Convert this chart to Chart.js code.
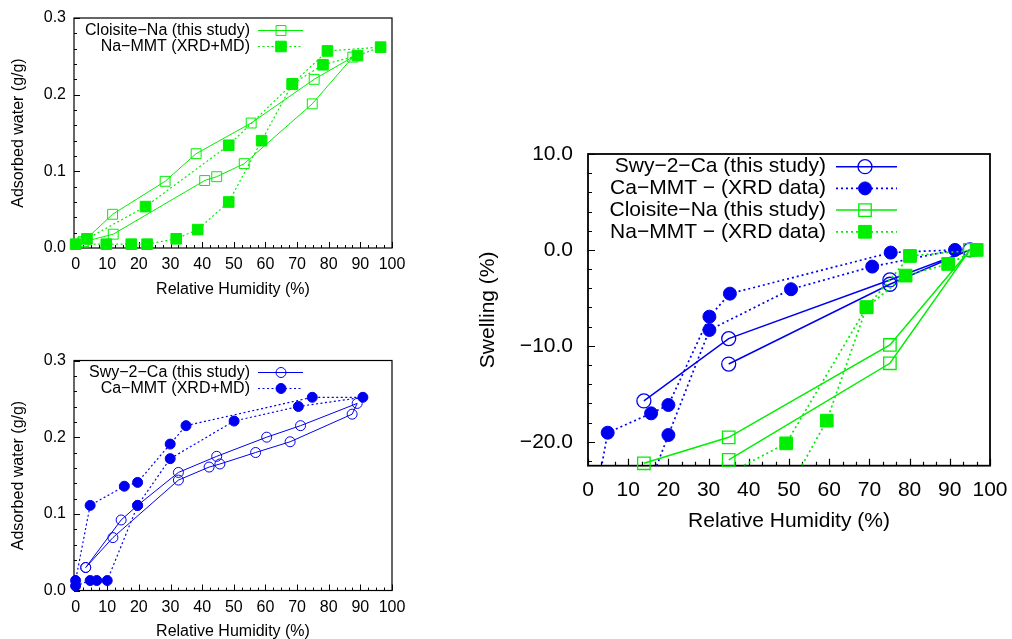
<!DOCTYPE html>
<html>
<head>
<meta charset="utf-8">
<script src="https://cdn.jsdelivr.net/npm/chart.js@4/dist/chart.umd.min.js"></script>
<style>
  body { margin: 0; background: #fff; }
  #page { position: relative; width: 1012px; height: 639px; overflow: hidden; background: #fff; }
  canvas { position: absolute; }
</style>
</head>
<body>
<div id="page">
  <canvas id="naChart" width="420" height="300" style="left:0;top:0;width:420px;height:300px"></canvas>
  <canvas id="caChart" width="420" height="300" style="left:0;top:342px;width:420px;height:300px"></canvas>
  <canvas id="swellChart" width="552" height="410" style="left:460px;top:130px;width:552px;height:410px"></canvas>
</div>
<script>
// top-left: Cloisite-Na water uptake
const cloisiteRH    = [2.4, 11.9, 40.8, 44.6, 53.3, 74.8, 87.6, 75.4, 55.5, 38.1, 28.3, 11.7, 2.4];
const cloisiteWater = [0.008, 0.018, 0.088, 0.093, 0.110, 0.188, 0.249, 0.220, 0.163, 0.123, 0.087, 0.044, 0.008];
const naMmtRH       = [0, 9.7, 17.6, 22.6, 31.8, 38.6, 48.4, 58.8, 68.5, 79.6, 96.4, 89.1, 78.2, 68.5, 48.4, 22.1, 3.6];
const naMmtWater    = [0.005, 0.005, 0.005, 0.005, 0.012, 0.024, 0.060, 0.140, 0.214, 0.257, 0.262, 0.251, 0.239, 0.214, 0.134, 0.054, 0.012];

// bottom-left: Swy-2-Ca water uptake
const swyRH         = [3.2, 11.8, 32.5, 42.2, 45.6, 56.9, 67.8, 87.4, 89.0, 71.1, 60.4, 44.6, 32.5, 19.6, 14.4, 3.2];
const swyWater      = [0.030, 0.069, 0.144, 0.161, 0.165, 0.180, 0.194, 0.230, 0.244, 0.215, 0.200, 0.175, 0.154, 0.111, 0.092, 0.030];
const caMmtRH       = [0, 4.6, 6.7, 10.0, 19.6, 29.9, 50.1, 70.4, 90.8, 74.8, 34.9, 29.9, 19.6, 15.4, 4.6, 0];
const caMmtWater    = [0.006, 0.013, 0.013, 0.013, 0.111, 0.172, 0.221, 0.240, 0.252, 0.252, 0.215, 0.191, 0.141, 0.136, 0.111, 0.013];

// right: swelling
const swySwellRH       = [35.0, 75.1, 95.0, 75.1, 35.0, 13.9];
const swySwell         = [-11.9, -3.58, 0, -3.13, -9.25, -15.75];
const caSwellRH        = [10.0, 20.0, 30.2, 50.5, 70.7, 91.3, 75.3, 35.3, 30.2, 20.0, 15.7, 4.9, 0];
const caSwell          = [-30.3, -19.3, -8.35, -4.1, -1.74, 0, -0.28, -4.56, -6.96, -16.17, -17.04, -19.06, -30.3];
const cloisiteSwellRH  = [35.0, 75.1, 95.0, 75.1, 35.0, 13.9];
const cloisiteSwell    = [-21.9, -11.82, 0, -9.91, -19.54, -22.25];
const naSwellRH        = [48.4, 59.4, 69.3, 80.1, 96.7, 89.6, 79.0, 69.3, 49.3, 22.1];
const naSwell          = [-26.1, -17.8, -5.98, -0.63, 0, -1.46, -2.68, -5.98, -20.17, -26.1];

const rhTicks = [0, 100, 10];          // min, max, step of the tick labels
const waterTicks = [0, 0.3, 0.1];
const swellTicks = [-20, 10, 10];

const GREEN = '#00ee00';
const BLUE = '#0000f0';
const FONT = "'Liberation Sans', Arial, Helvetica, sans-serif";

Chart.defaults.font.family = FONT;
Chart.defaults.color = '#000';

function pts(xs, ys) {
    return xs.map((x, i) => ({ x: x, y: ys[i] }));
}

// the line part is clipped to the frame, the markers are not (gnuplot draws them over the border)
function series(xs, ys, st, order) {
    const line = {
        data: pts(xs, ys),
        showLine: true,
        borderColor: st.color,
        borderWidth: st.width,
        borderDash: st.dash,
        pointRadius: 0,
        pointHoverRadius: 0,
        order: order + 1
    };
    const marks = {
        data: pts(xs, ys),
        showLine: false,
        clip: false,
        pointStyle: st.marker,
        pointRadius: function(ctx) {
            const s = ctx.chart.scales.y;
            const v = ctx.raw ? ctx.raw.y : 0;
            return (v < s.min || v > s.max) ? 0 : st.radius;
        },
        pointHoverRadius: 0,
        pointBorderWidth: st.pointWidth,
        pointBorderColor: st.color,
        pointBackgroundColor: st.filled ? st.color : 'rgba(0,0,0,0)',
        order: order
    };
    return [line, marks];
}

const frameAndKey = {
    id: 'frameAndKey',
    beforeDatasetsDraw(chart, args, opts) {
        const ctx = chart.ctx;
        const a = chart.chartArea;
        const xs = chart.scales.x, ys = chart.scales.y;
        ctx.save();
        ctx.strokeStyle = '#000';
        ctx.lineWidth = opts.tickWidth;
        ctx.beginPath();
        const xStep = opts.xStep / opts.xSub;
        for (let k = Math.ceil(xs.min / xStep - 1e-6); k * xStep <= xs.max + 1e-6; k++) {
            const px = Math.round(xs.getPixelForValue(k * xStep)) + 0.5;
            const len = (k % opts.xSub === 0) ? opts.major : opts.minor;
            ctx.moveTo(px, a.bottom);
            ctx.lineTo(px, a.bottom - len);
        }
        const yStep = opts.yStep / opts.ySub;
        for (let k = Math.ceil(ys.min / yStep - 1e-6); k * yStep <= ys.max + 1e-6; k++) {
            const py = Math.round(ys.getPixelForValue(k * yStep)) + 0.5;
            const len = (Math.abs(k) % opts.ySub === 0) ? opts.major : opts.minor;
            ctx.moveTo(a.left, py);
            ctx.lineTo(a.left + len, py);
        }
        ctx.stroke();
        ctx.lineWidth = opts.frameWidth;
        ctx.strokeRect(a.left, a.top, a.right - a.left, a.bottom - a.top);
        ctx.restore();
    },
    afterDraw(chart, args, opts) {
        const ctx = chart.ctx;
        ctx.save();
        opts.key.forEach((k, i) => {
            const y = opts.keyTop + i * opts.keyGap;
            ctx.font = opts.keyFont + 'px ' + FONT;
            ctx.fillStyle = '#000';
            ctx.textAlign = 'right';
            ctx.textBaseline = 'middle';
            ctx.fillText(k.label, opts.keyText, y);
            const st = k.style;
            ctx.strokeStyle = st.color;
            ctx.lineWidth = st.width;
            ctx.setLineDash(st.dash);
            ctx.beginPath();
            ctx.moveTo(opts.keyFrom, y);
            ctx.lineTo(opts.keyTo, y);
            ctx.stroke();
            ctx.setLineDash([]);
            ctx.lineWidth = st.pointWidth;
            ctx.fillStyle = st.filled ? st.color : 'rgba(0,0,0,0)';
            ctx.beginPath();
            if (st.marker === 'circle') {
                ctx.arc(opts.keyMark, y, st.radius, 0, Math.PI * 2);
            } else {
                const h = st.radius * Math.SQRT1_2;
                ctx.rect(opts.keyMark - h, y - h, 2 * h, 2 * h);
            }
            ctx.fill();
            ctx.stroke();
        });
        ctx.restore();
    }
};

function minusLabel(v) {
    return v < 0 ? '\u2212' + Math.abs(v).toFixed(1) : v.toFixed(1);
}

// tick label padding must not push the plot frame around
function noEdgePadding(s) {
    s.paddingTop = 0;
    s.paddingBottom = 0;
    s.paddingLeft = 0;
    s.paddingRight = 0;
}

function makeChart(canvasId, cfg) {
    const ctx = document.getElementById(canvasId).getContext('2d');
    return new Chart(ctx, {
        type: 'scatter',
        data: { datasets: cfg.datasets },
        options: {
            responsive: false,
            animation: false,
            events: [],
            devicePixelRatio: 1,
            layout: { padding: cfg.padding },
            plugins: {
                legend: { display: false },
                tooltip: { enabled: false },
                frameAndKey: cfg.frame
            },
            scales: {
                x: {
                    type: 'linear',
                    min: cfg.xMin,
                    max: cfg.xMax,
                    afterFit: function(s) { s.height = cfg.xHeight; noEdgePadding(s); },
                    grid: { display: false, drawTicks: false },
                    border: { display: false },
                    ticks: {
                        stepSize: rhTicks[2],
                        includeBounds: false,
                        autoSkip: false,
                        maxRotation: 0,
                        padding: cfg.xPad,
                        font: { size: cfg.font },
                        callback: v => String(v)
                    },
                    title: {
                        display: true,
                        text: 'Relative Humidity (%)',
                        font: { size: cfg.font },
                        padding: { top: 0, bottom: cfg.xTitlePad }
                    }
                },
                y: {
                    type: 'linear',
                    min: cfg.yMin,
                    max: cfg.yMax,
                    afterFit: function(s) { s.width = cfg.yWidth; noEdgePadding(s); },
                    grid: { display: false, drawTicks: false },
                    border: { display: false },
                    ticks: {
                        stepSize: cfg.yStep,
                        includeBounds: false,
                        autoSkip: false,
                        padding: cfg.yPad,
                        font: { size: cfg.font },
                        callback: cfg.yLabel
                    },
                    title: {
                        display: true,
                        text: cfg.yTitle,
                        font: { size: cfg.font },
                        padding: { top: cfg.yTitlePad, bottom: 0 }
                    }
                }
            }
        },
        plugins: [frameAndKey]
    });
}

// styles
const smallSolidSquare = { color: GREEN, width: 1, dash: [], marker: 'rect', radius: 7, filled: false, pointWidth: 1 };
const smallDotSquare   = { color: GREEN, width: 1.2, dash: [2, 2.5], marker: 'rect', radius: 7.5, filled: true, pointWidth: 1 };
const smallSolidCircle = { color: BLUE, width: 1, dash: [], marker: 'circle', radius: 5, filled: false, pointWidth: 1 };
const smallDotCircle   = { color: BLUE, width: 1.2, dash: [2, 2.5], marker: 'circle', radius: 5, filled: true, pointWidth: 1 };

const bigSolidCircle = { color: BLUE, width: 1.5, dash: [], marker: 'circle', radius: 7, filled: false, pointWidth: 1.3 };
const bigDotCircle   = { color: BLUE, width: 1.7, dash: [2, 3], marker: 'circle', radius: 6.5, filled: true, pointWidth: 1 };
const bigSolidSquare = { color: GREEN, width: 1.5, dash: [], marker: 'rect', radius: 8.8, filled: false, pointWidth: 1.3 };
const bigDotSquare   = { color: GREEN, width: 1.7, dash: [2, 3], marker: 'rect', radius: 9, filled: true, pointWidth: 1 };

const smallFrame = {
    tickWidth: 1, frameWidth: 1.2, major: 6, minor: 3,
    xStep: rhTicks[2], xSub: 4, yStep: waterTicks[2], ySub: 5,
    keyFont: 16, keyTop: 30.5, keyGap: 16, keyText: 250, keyFrom: 258, keyTo: 303, keyMark: 281
};

makeChart('naChart', {
    datasets: [].concat(
        series(naMmtRH, naMmtWater, smallDotSquare, 0),
        series(cloisiteRH, cloisiteWater, smallSolidSquare, 2)
    ),
    padding: { top: 18, right: 28, left: 0, bottom: 0 },
    xMin: -0.5, xMax: rhTicks[1], xHeight: 52, xPad: 7, xTitlePad: 1,
    yMin: waterTicks[0], yMax: waterTicks[1], yStep: waterTicks[2], yWidth: 74, yPad: 8, yTitlePad: 9,
    yTitle: 'Adsorbed water (g/g)', yLabel: v => v.toFixed(1), font: 16,
    frame: Object.assign({}, smallFrame, {
        key: [
            { label: 'Cloisite\u2212Na (this study)', style: smallSolidSquare },
            { label: 'Na\u2212MMT (XRD+MD)', style: smallDotSquare }
        ]
    })
});

makeChart('caChart', {
    datasets: [].concat(
        series(caMmtRH, caMmtWater, smallDotCircle, 0),
        series(swyRH, swyWater, smallSolidCircle, 2)
    ),
    padding: { top: 18.5, right: 28, left: 0, bottom: 0 },
    xMin: -0.5, xMax: rhTicks[1], xHeight: 51.5, xPad: 7, xTitlePad: 1,
    yMin: waterTicks[0], yMax: waterTicks[1], yStep: waterTicks[2], yWidth: 74, yPad: 8, yTitlePad: 9,
    yTitle: 'Adsorbed water (g/g)', yLabel: v => v.toFixed(1), font: 16,
    frame: Object.assign({}, smallFrame, {
        key: [
            { label: 'Swy\u22122\u2212Ca (this study)', style: smallSolidCircle },
            { label: 'Ca\u2212MMT (XRD+MD)', style: smallDotCircle }
        ]
    })
});

makeChart('swellChart', {
    datasets: [].concat(
        series(naSwellRH, naSwell, bigDotSquare, 0),
        series(cloisiteSwellRH, cloisiteSwell, bigSolidSquare, 2),
        series(caSwellRH, caSwell, bigDotCircle, 4),
        series(swySwellRH, swySwell, bigSolidCircle, 6)
    ),
    padding: { top: 24, right: 22, left: 0, bottom: 0 },
    xMin: rhTicks[0], xMax: rhTicks[1], xHeight: 74.3, xPad: 12, xTitlePad: 6.4,
    yMin: -22.5, yMax: swellTicks[1], yStep: swellTicks[2], yWidth: 128, yPad: 15, yTitlePad: 16,
    yTitle: 'Swelling (%)', yLabel: minusLabel, font: 21,
    frame: {
        tickWidth: 1.2, frameWidth: 1.8, major: 7, minor: 4,
        xStep: rhTicks[2], xSub: 3, yStep: swellTicks[2], ySub: 5,
        keyFont: 21, keyTop: 36.7, keyGap: 21.7, keyText: 366, keyFrom: 376, keyTo: 437, keyMark: 405,
        key: [
            { label: 'Swy\u22122\u2212Ca (this study)', style: bigSolidCircle },
            { label: 'Ca\u2212MMT \u2212 (XRD data)', style: bigDotCircle },
            { label: 'Cloisite\u2212Na (this study)', style: bigSolidSquare },
            { label: 'Na\u2212MMT \u2212 (XRD data)', style: bigDotSquare }
        ]
    }
});
</script>
</body>
</html>
